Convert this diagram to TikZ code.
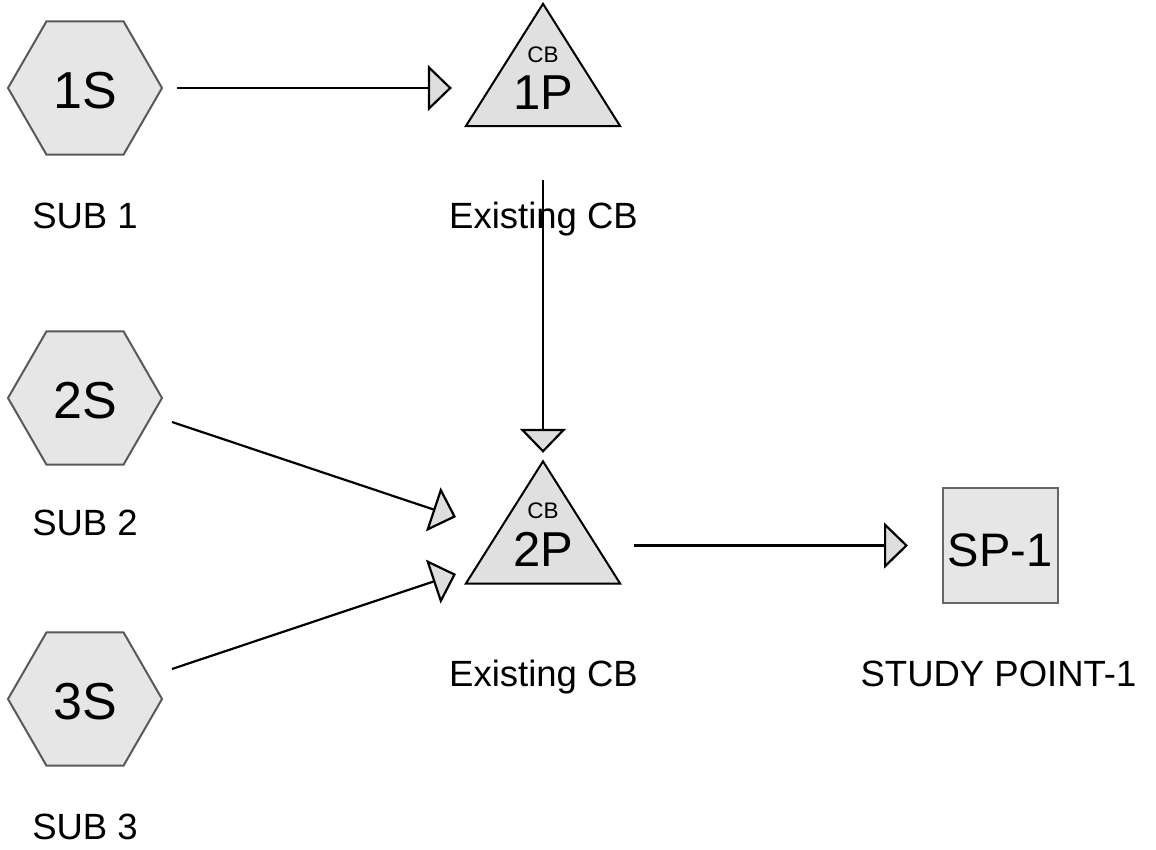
\documentclass[tikz,border=0pt]{standalone}
\usepackage{fontspec}
\setmainfont{Liberation Sans}
\usetikzlibrary{shapes.geometric,arrows.meta,calc,backgrounds}
\definecolor{hexfill}{HTML}{E6E6E6}
\definecolor{hexline}{HTML}{595959}
\definecolor{trifill}{HTML}{E0E0E0}
\definecolor{arrfill}{HTML}{DEDEDE}
\definecolor{boxline}{HTML}{666666}
\tikzset{
  hexnode/.style={regular polygon, regular polygon sides=6, minimum size=154pt,
    inner sep=0pt, draw=hexline, fill=hexfill, line width=2pt,
    font=\fontsize{52}{52}\selectfont, text height=41pt, text depth=0pt},
  tribox/.style={rectangle, minimum width=154pt, minimum height=122pt, inner sep=0pt},
  trishape/.style={draw=black, fill=trifill, line width=2pt, line join=miter},
  cbsmall/.style={font=\fontsize{22.5}{22.5}\selectfont, text height=16.1pt, text depth=0pt, inner sep=0pt},
  cbbig/.style={font=\fontsize{49}{49}\selectfont, text height=35.1pt, text depth=0pt, inner sep=0pt},
  spbox/.style={rectangle, minimum size=115pt, inner sep=0pt, draw=boxline, fill=hexfill,
    line width=2pt, font=\fontsize{47}{47}\selectfont, text height=42.6pt, text depth=0pt},
  caption/.style={anchor=base, inner sep=0pt, font=\fontsize{36.5}{36.5}\selectfont},
  conn/.style={draw=black, line width=2.2pt,
    -{Triangle[length=24pt, width=46pt, fill=arrfill, line width=2.2pt]}}
}
\begin{document}
\begin{tikzpicture}[x=1pt,y=-1pt]
\useasboundingbox (0,0) rectangle (1156,850);
% sources
\node[hexnode] (s1) at (85,88) {1S};
\node[hexnode] (s2) at (85,398) {2S};
\node[hexnode] (s3) at (85,699) {3S};
% breakers
\node[tribox,
  label={[cbsmall,yshift=11pt]center:CB},
  label={[cbbig,yshift=-26.6pt]center:1P}] (p1) at (543,65) {};
\node[tribox,
  label={[cbsmall,yshift=12pt]center:CB},
  label={[cbbig,yshift=-26.5pt]center:2P}] (p2) at (543,522.5) {};
\begin{scope}[on background layer]
  \fill[white] (0,0) rectangle (1156,850);
  \path[trishape] (p1.south west) -- (p1.north) -- (p1.south east) -- cycle;
  \path[trishape] (p2.south west) -- (p2.north) -- (p2.south east) -- cycle;
\end{scope}
% study point
\node[spbox] (sp1) at (1000,545.5) {SP-1};
% captions
\node[caption] (c1) at (85,229) {SUB 1};
\node[caption] (c2) at (543.5,229) {Existing CB};
\node[caption] (c3) at (85,535) {SUB 2};
\node[caption] (c4) at (543.5,686) {Existing CB};
\node[caption] (c5) at (998.5,686) {STUDY POINT-1};
\node[caption] (c6) at (85,839) {SUB 3};
% connectors
\draw[conn] ($(s1.east)+(14,0)$) -- ($(p1.west |- s1.east)+(-14,0)$);
\draw[conn] ($(p1.south)+(0,54)$) -- ($(p2.north)+(0,-8.5)$);
\draw[conn] ($(s2.center)+(87,24)$) -- ($(p2.center)+(-87,-5.5)$);
\draw[conn] ($(s3.center)+(87,-30)$) -- ($(p2.center)+(-87,51.5)$);
\draw[conn] ($(p2.east |- sp1.west)+(14,0)$) -- ($(sp1.west)+(-33.5,0)$);
\end{tikzpicture}
\end{document}
